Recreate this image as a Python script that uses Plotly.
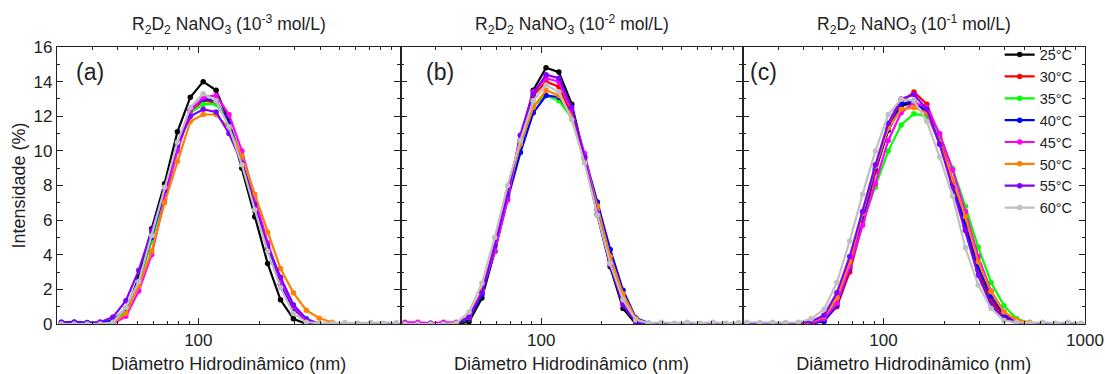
import plotly.graph_objects as go
import math

# Hydrodynamic diameter bins (nm)
diam = [21.04, 24.36, 28.21, 32.67, 37.84, 43.82, 50.75, 58.77, 68.06, 78.82, 91.28,
        105.7, 122.4, 141.8, 164.2, 190.1, 220.2, 255.0, 295.3, 342.0, 396.1, 458.7,
        531.2, 615.1, 712.4, 825.0, 955.4]

temps = ["25°C", "30°C", "35°C", "40°C", "45°C", "50°C", "55°C", "60°C"]
colors = ["#000000", "#FF0000", "#00FF00", "#0000FF", "#FF00FF", "#FF8000", "#8000FF", "#C0C0C0"]

# Panel (a): NaNO3 1e-3 mol/L
a_25 = [0, 0, 0, 0, 0, 0.7, 2.7, 5.5, 8.1, 11.1, 13.1, 14.0, 13.5, 11.7, 9.0, 6.2, 3.5, 1.4, 0.3, 0, 0, 0, 0, 0, 0, 0, 0]
a_30 = [0, 0, 0, 0, 0.1, 0.8, 2.4, 4.9, 7.6, 10.3, 12.3, 12.9, 12.8, 11.6, 9.5, 6.9, 4.4, 2.3, 0.9, 0.2, 0, 0, 0, 0, 0, 0, 0]
a_35 = [0, 0, 0, 0, 0.1, 0.8, 2.4, 4.8, 7.5, 10.2, 12.2, 12.7, 12.7, 11.6, 9.6, 7.0, 4.6, 2.6, 1.1, 0.3, 0, 0, 0, 0, 0, 0, 0]
a_40 = [0.1, 0.12, 0.08, 0.1, 0.2, 0.9, 2.5, 5.0, 7.6, 10.3, 12.4, 13.0, 12.9, 11.6, 9.4, 6.8, 4.3, 2.3, 0.9, 0.2, 0, 0, 0, 0, 0, 0, 0]
a_45 = [0, 0, 0, 0, 0, 0.45, 1.9, 4.0, 7.2, 10.0, 12.3, 13.1, 13.2, 12.1, 10.0, 7.3, 4.7, 2.5, 1.0, 0.2, 0, 0, 0, 0, 0, 0, 0]
a_50 = [0, 0, 0, 0, 0.05, 0.6, 2.2, 4.2, 7.0, 9.4, 11.7, 12.1, 12.1, 11.3, 9.7, 7.5, 5.3, 3.2, 1.8, 0.8, 0.33, 0.1, 0, 0, 0, 0, 0]
a_55 = [0.1, 0.08, 0.05, 0.1, 0.4, 1.35, 3.1, 5.4, 7.7, 10.3, 12.0, 12.4, 12.25, 11.0, 9.3, 6.9, 4.5, 2.7, 1.1, 0.3, 0, 0, 0, 0, 0, 0, 0]
a_60 = [0, 0, 0, 0, 0.1, 0.95, 2.45, 5.1, 7.9, 10.5, 12.5, 13.3, 12.9, 11.4, 9.2, 6.6, 4.2, 2.1, 0.6, 0.1, 0.05, 0.05, 0.08, 0.05, 0.08, 0.05, 0.08]

# Panel (b): NaNO3 1e-2 mol/L
b_25 = [0, 0, 0, 0, 0, 0.13, 1.5, 4.2, 7.4, 10.6, 13.5, 14.8, 14.55, 12.7, 9.6, 6.3, 3.3, 0.9, 0, 0, 0, 0, 0, 0, 0, 0, 0]
b_30 = [0, 0, 0, 0, 0.05, 0.3, 1.8, 4.5, 7.6, 10.6, 13.2, 14.0, 13.7, 12.1, 9.6, 6.6, 3.8, 1.5, 0.2, 0, 0, 0, 0, 0, 0, 0, 0]
b_35 = [0, 0, 0, 0, 0.05, 0.3, 1.8, 4.4, 7.4, 10.4, 12.6, 13.2, 12.9, 11.9, 9.6, 6.8, 4.0, 1.7, 0.3, 0, 0, 0, 0, 0, 0, 0, 0]
b_40 = [0, 0, 0.05, 0.05, 0.05, 0.3, 1.7, 4.2, 7.2, 9.9, 12.2, 13.2, 13.1, 12.1, 9.7, 7.05, 4.3, 1.95, 0.35, 0.05, 0, 0, 0, 0, 0, 0, 0]
b_45 = [0.1, 0.1, 0.05, 0.1, 0.1, 0.4, 1.9, 4.2, 7.15, 10.9, 13.4, 14.2, 14.0, 12.3, 9.85, 6.6, 3.6, 1.2, 0.1, 0, 0, 0, 0, 0, 0, 0, 0]
b_50 = [0, 0, 0, 0, 0.05, 0.4, 1.9, 4.5, 7.6, 10.4, 12.5, 13.5, 13.2, 12.0, 9.5, 6.8, 3.9, 1.75, 0.3, 0, 0, 0, 0, 0, 0, 0, 0]
b_55 = [0, 0, 0, 0, 0.05, 0.4, 1.8, 4.5, 7.5, 10.9, 13.3, 14.4, 14.2, 12.5, 9.6, 6.4, 3.4, 1.1, 0.1, 0, 0, 0, 0, 0, 0, 0, 0]
b_60 = [0, 0, 0, 0, 0.05, 0.7, 2.35, 5.0, 8.0, 10.6, 12.9, 13.8, 13.4, 11.8, 9.3, 6.3, 3.5, 1.4, 0.23, 0.05, 0.1, 0.05, 0.1, 0.05, 0.1, 0.05, 0.08]

# Panel (c): NaNO3 1e-1 mol/L
c_25 = [0, 0, 0, 0, 0, 0.05, 0.4, 1.3, 3.3, 6.0, 8.9, 11.2, 12.6, 12.8, 12.3, 10.6, 8.1, 5.6, 3.1, 1.3, 0.4, 0.05, 0, 0, 0, 0, 0]
c_30 = [0, 0, 0, 0, 0, 0, 0.2, 1.0, 3.0, 5.8, 8.8, 11.3, 12.8, 13.4, 12.7, 10.8, 8.3, 5.7, 3.2, 1.4, 0.4, 0.1, 0, 0, 0, 0, 0]
c_35 = [0, 0, 0, 0, 0, 0.05, 0.4, 1.4, 3.4, 5.9, 7.9, 10.0, 11.5, 12.15, 12.0, 10.9, 9.0, 6.8, 4.45, 2.4, 1.06, 0.3, 0.05, 0, 0, 0, 0]
c_40 = [0, 0, 0, 0, 0, 0.05, 0.15, 1.1, 3.2, 6.1, 9.0, 11.2, 12.7, 12.9, 12.2, 10.4, 8.2, 5.7, 3.3, 1.6, 0.55, 0.1, 0, 0, 0, 0, 0]
c_45 = [0, 0, 0, 0, 0, 0.05, 0.3, 1.2, 3.3, 5.7, 8.1, 10.6, 12.2, 12.8, 12.5, 11.0, 8.9, 6.5, 3.9, 1.9, 0.7, 0.15, 0, 0, 0, 0, 0]
c_50 = [0, 0, 0, 0, 0, 0.1, 0.45, 1.5, 3.6, 6.4, 9.1, 11.3, 12.4, 12.5, 12.2, 10.5, 8.3, 6.2, 3.6, 1.87, 0.7, 0.23, 0.1, 0, 0, 0, 0]
c_55 = [0, 0, 0, 0, 0.05, 0.15, 0.5, 1.8, 3.9, 6.5, 9.2, 11.6, 13.0, 13.25, 12.4, 10.4, 7.9, 5.4, 2.8, 1.1, 0.3, 0.05, 0, 0, 0, 0, 0]
c_60 = [0.1, 0.08, 0.1, 0.08, 0.1, 0.3, 0.85, 2.4, 4.8, 7.5, 10.0, 12.1, 12.98, 12.9, 11.7, 9.65, 7.4, 4.4, 2.25, 0.9, 0.2, 0.1, 0.05, 0.1, 0.05, 0.1, 0.05]

panels = [
    [a_25, a_30, a_35, a_40, a_45, a_50, a_55, a_60],
    [b_25, b_30, b_35, b_40, b_45, b_50, b_55, b_60],
    [c_25, c_30, c_35, c_40, c_45, c_50, c_55, c_60],
]
panel_titles = [
    "R<sub>2</sub>D<sub>2</sub> NaNO<sub>3</sub> (10<sup>-3</sup> mol/L)",
    "R<sub>2</sub>D<sub>2</sub> NaNO<sub>3</sub> (10<sup>-2</sup> mol/L)",
    "R<sub>2</sub>D<sub>2</sub> NaNO<sub>3</sub> (10<sup>-1</sup> mol/L)",
]
panel_labels = ["(a)", "(b)", "(c)"]
major_x = [100, 1000]
minor_x = [20, 30, 40, 50, 60, 70, 80, 90, 200, 300, 400, 500, 600, 700, 800, 900]
x_range = [20, 1000]
y_range = [0, 16]

FONT = "Liberation Sans, Arial, sans-serif"
TXT = "#222222"

W, H = 1105, 374
ML, MR, MT, MB = 57, 20, 47, 50
PW = W - ML - MR
PH = H - MT - MB
edges = [0, 343.5 / PW, 685.5 / PW, 1.0]

fig = go.Figure()
for p, series in enumerate(panels):
    xa = "x" if p == 0 else f"x{p+1}"
    ya = "y" if p == 0 else f"y{p+1}"
    for i, vals in enumerate(series):
        fig.add_trace(go.Scatter(
            x=diam, y=vals, mode="lines+markers", name=temps[i],
            line=dict(color=colors[i], width=2.2),
            marker=dict(color=colors[i], size=5.5),
            xaxis=xa, yaxis=ya, showlegend=(p == 2), cliponaxis=True,
        ))

layout = dict(
    width=W, height=H,
    margin=dict(l=ML, r=MR, t=MT, b=MB, autoexpand=False),
    paper_bgcolor="white", plot_bgcolor="white",
    font=dict(family=FONT, size=17, color=TXT),
    showlegend=True,
    legend=dict(x=0.917, y=1.03, xanchor="left", yanchor="top",
                bgcolor="rgba(0,0,0,0)", font=dict(size=14.5, family=FONT, color=TXT),
                tracegroupgap=0, itemwidth=30),
    annotations=[],
)
for p in range(3):
    xk = "xaxis" if p == 0 else f"xaxis{p+1}"
    yk = "yaxis" if p == 0 else f"yaxis{p+1}"
    ya = "y" if p == 0 else f"y{p+1}"
    xa = "x" if p == 0 else f"x{p+1}"
    tv = [100] if p < 2 else major_x
    layout[xk] = dict(
        type="log", range=[math.log10(x_range[0]), math.log10(x_range[1])],
        domain=[edges[p], edges[p + 1]], anchor=ya, automargin=False,
        tickmode="array", tickvals=tv, ticktext=[str(v) for v in tv],
        ticks="inside", ticklen=6, tickwidth=1, tickcolor="#222",
        minor=dict(tickmode="array", tickvals=minor_x, ticks="inside", ticklen=3, tickwidth=1, tickcolor="#222"),
        showline=True, linecolor="#222", linewidth=1.3, mirror="ticks",
        showgrid=False, zeroline=False,
        tickfont=dict(size=17, family=FONT, color=TXT),
        title=dict(text="Diâmetro Hidrodinâmico (nm)", font=dict(size=18, family=FONT, color=TXT), standoff=8),
    )
    layout[yk] = dict(
        range=y_range, domain=[0, 1], anchor=xa, automargin=False,
        tickmode="linear", tick0=0, dtick=2,
        ticks="inside", ticklen=6, tickwidth=1, tickcolor="#222",
        minor=dict(dtick=1, ticks="inside", ticklen=3, tickwidth=1, tickcolor="#222"),
        showline=True, linecolor="#222", linewidth=1.3, mirror="ticks",
        showgrid=False, zeroline=False, showticklabels=(p == 0),
        tickfont=dict(size=17, family=FONT, color=TXT),
    )
    if p == 0:
        layout[yk]["title"] = dict(text="Intensidade (%)", font=dict(size=18, family=FONT, color=TXT), standoff=3)
    layout["annotations"].append(dict(
        text=panel_titles[p], xref="paper", yref="paper",
        x=(edges[p] + edges[p + 1]) / 2, y=1 + 22 / PH, xanchor="center", yanchor="middle",
        showarrow=False, font=dict(size=17.5, family=FONT, color=TXT)))
    lx = [0.05, 0.07, 0.017][p]
    layout["annotations"].append(dict(
        text=panel_labels[p], xref=f"{xa} domain", yref=f"{ya} domain",
        x=lx, y=0.91, xanchor="left", yanchor="middle",
        showarrow=False, font=dict(size=23, family=FONT, color=TXT)))

fig.update_layout(**layout)
fig.write_html("out.html")
